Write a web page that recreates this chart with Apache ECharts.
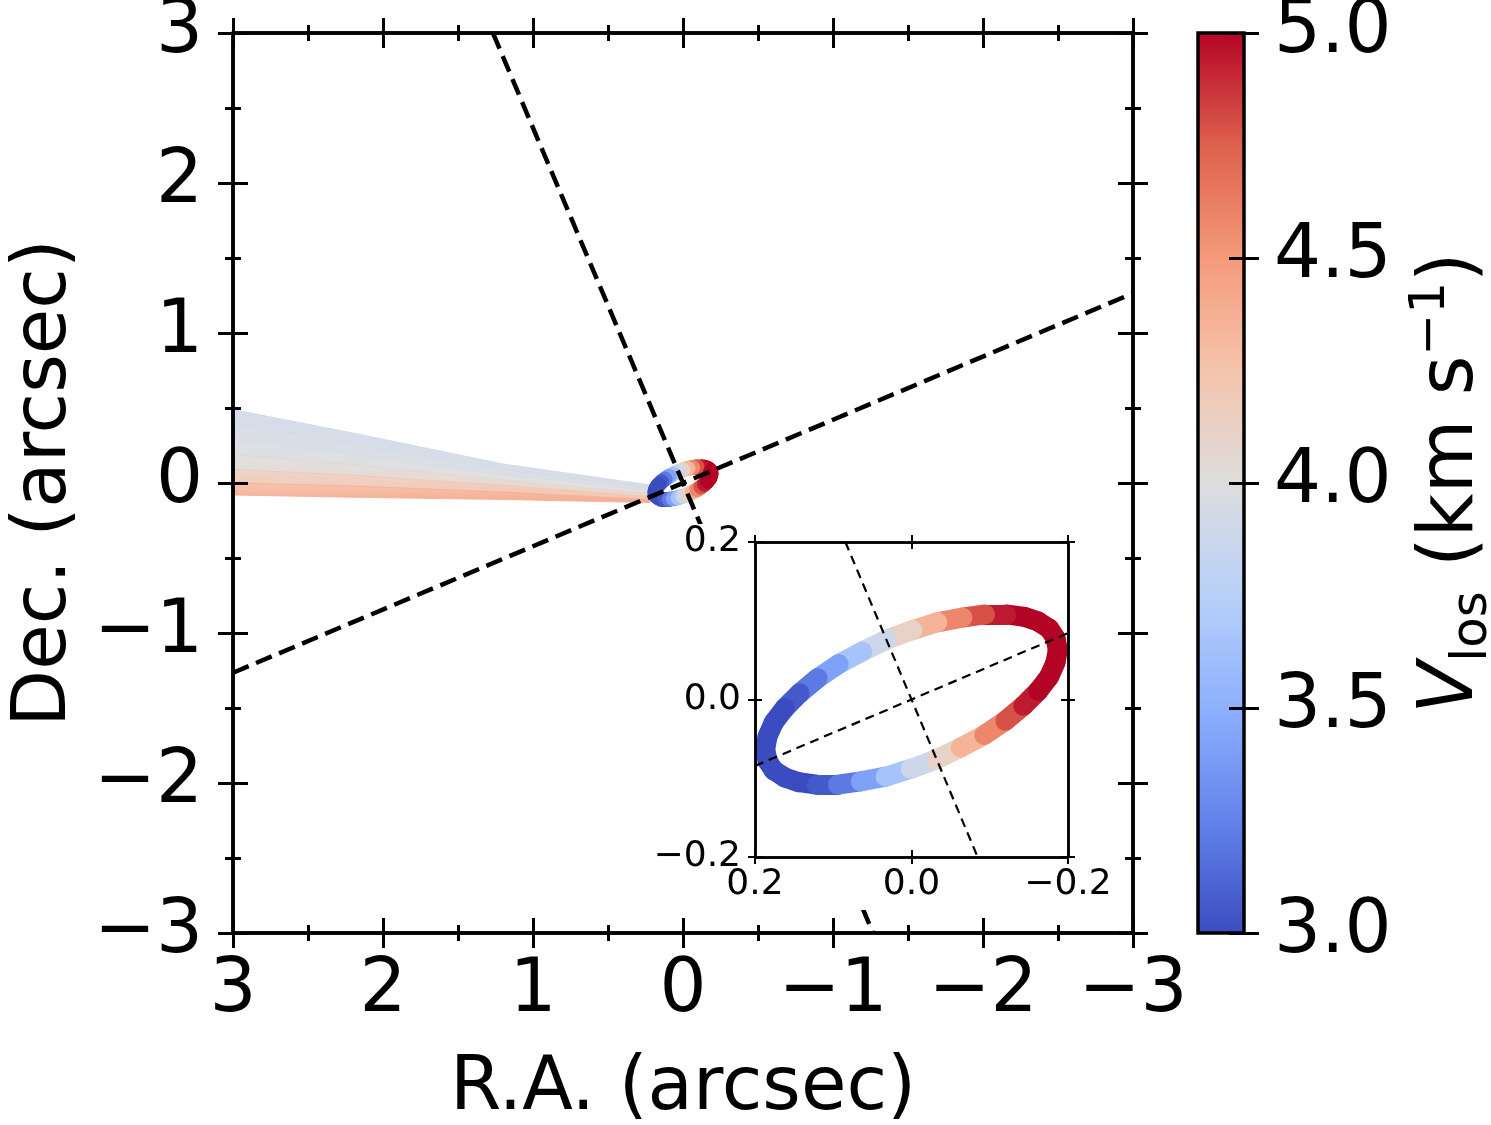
<!DOCTYPE html>
<html>
<head>
<meta charset="utf-8">
<script src="https://cdn.jsdelivr.net/npm/echarts@6/dist/echarts.min.js"></script>
<style>
  html, body { margin: 0; padding: 0; background: #fff; }
  #chart { width: 1491px; height: 1125px; }
</style>
</head>
<body>
<div id="chart"></div>
<script>
// disk ring (arcsec) and its line-of-sight velocity (km/s)
const ringX = [-0.184, -0.176, -0.162, -0.144, -0.121, -0.094, -0.065, -0.033, -0.001, 0.032, 0.063, 0.093,
  0.120, 0.143, 0.162, 0.176, 0.184, 0.187, 0.184, 0.176, 0.162, 0.144, 0.121, 0.094,
  0.065, 0.033, 0.001, -0.032, -0.063, -0.093, -0.120, -0.143, -0.162, -0.176, -0.184, -0.187];
const ringY = [0.078, 0.090, 0.099, 0.105, 0.108, 0.108, 0.104, 0.098, 0.088, 0.076, 0.061, 0.045,
  0.027, 0.008, -0.011, -0.029, -0.047, -0.063, -0.078, -0.090, -0.099, -0.105, -0.108, -0.108,
  -0.104, -0.098, -0.088, -0.076, -0.061, -0.045, -0.027, -0.008, 0.011, 0.029, 0.047, 0.063];
const ringV = [5.0, 5.0, 5.0, 5.0, 5.0, 4.88, 4.7, 4.47, 4.23, 4.0, 3.77, 3.53,
  3.31, 3.12, 3.0, 3.0, 3.0, 3.0, 3.0, 3.0, 3.0, 3.0, 3.0, 3.12,
  3.31, 3.53, 3.77, 4.0, 4.23, 4.47, 4.7, 4.88, 5.0, 5.0, 5.0, 5.0];

// streamer edges: R.A. of the sample points, Dec. of each edge line there, and its velocity
const streamerX = [3.0, 2.2, 1.2, 0.22];
const streamerY = [
  [0.49, 0.333, 0.127, -0.013],
  [0.39, 0.262, 0.090, -0.030],
  [0.29, 0.192, 0.055, -0.050],
  [0.19, 0.122, 0.020, -0.070],
  [0.09, 0.052, -0.015, -0.090],
  [0.00, -0.020, -0.060, -0.110],
  [-0.08, -0.095, -0.110, -0.130]
];
const streamerV = [3.92, 3.94, 3.96, 4.0, 4.12, 4.28, 4.45];

// major and minor axes of the disk, end points
const majorAxisMain = [[3, -1.265], [-3, 1.265]];
const minorAxisMain = [[1.267, 3], [-1.267, -3]];
const majorAxisInset = [[0.2, -0.0843], [-0.2, 0.0843]];
const minorAxisInset = [[0.0845, 0.2], [-0.0845, -0.2]];

// scales
const mainScale = { min: -3, max: 3, interval: 1 };
const insetScale = { min: -0.2, max: 0.2, interval: 0.2 };
const cbScale = { min: 3.0, max: 5.0, interval: 0.5 };

// coolwarm colormap
const coolwarm = ['#3b4cc0', '#6282ea', '#8db0fe', '#b8d0f9', '#dddddd', '#f5c4ac', '#f49a7b', '#de604d', '#b40426'];

const FONT = 'DejaVu Sans';

function hexRgb(h) {
  return [parseInt(h.slice(1, 3), 16), parseInt(h.slice(3, 5), 16), parseInt(h.slice(5, 7), 16)];
}
function vColor(v) {
  let f = (v - cbScale.min) / (cbScale.max - cbScale.min);
  f = Math.max(0, Math.min(1, f));
  const p = f * (coolwarm.length - 1);
  const i = Math.min(Math.floor(p), coolwarm.length - 2);
  const t = p - i;
  const a = hexRgb(coolwarm[i]), b = hexRgb(coolwarm[i + 1]);
  const c = a.map((x, k) => Math.round(x + (b[k] - x) * t));
  return 'rgb(' + c.join(',') + ')';
}
const minus = s => String(s).replace('-', '\u2212');

function sideAxes(gridIndex, position, scale, look, label, extra) {
  const tickStyle = { color: '#000', width: look.tickWidth };
  const base = {
    type: 'value', gridIndex: gridIndex, position: position,
    min: scale.min, max: scale.max, interval: scale.interval, inverse: !!scale.inverse,
    z: look.z,
    axisLine: { show: look.line > 0, onZero: false, lineStyle: { color: '#000', width: look.line } },
    splitLine: { show: false },
    axisPointer: { show: false }
  };
  const outer = Object.assign({}, base, {
    axisTick: { show: true, inside: false, length: look.tick, lineStyle: tickStyle },
    minorTick: { show: look.minor > 0, splitNumber: 2, length: look.minor, lineStyle: tickStyle },
    axisLabel: label || { show: false }
  }, extra || {});
  const inner = Object.assign({}, base, {
    axisTick: { show: true, inside: true, length: look.tick, lineStyle: tickStyle },
    minorTick: { show: look.minor > 0, splitNumber: 2, length: look.minor, lineStyle: tickStyle },
    axisLabel: { show: false }
  });
  return [outer, inner];
}

const mainLook = { line: 3.5, tick: 15, tickWidth: 3, minor: 8, z: 6 };
const insetLook = { line: 2.5, tick: 7, tickWidth: 2, minor: 0, z: 10 };
const cbLook = { line: 0, tick: 15, tickWidth: 3, minor: 0, z: 6 };
const raScale = Object.assign({ inverse: true }, mainScale);
const raInset = Object.assign({ inverse: true }, insetScale);

const mainLabelX = { show: true, margin: 22, color: '#000', fontSize: 74, fontFamily: FONT, formatter: v => minus(Math.round(v)) };
const mainLabelY = { show: true, margin: 30, color: '#000', fontSize: 74, fontFamily: FONT, formatter: v => minus(Math.round(v)) };
const insetFmt = v => Math.abs(v) < 1e-9 ? '0.0' : minus(v.toFixed(1));
const insetLabelX = { show: true, margin: 10, color: '#000', fontSize: 36, fontFamily: FONT, formatter: insetFmt };
const insetLabelY = { show: true, margin: 14, color: '#000', fontSize: 36, fontFamily: FONT, formatter: insetFmt };
const cbLabel = { show: true, margin: 30, color: '#000', fontSize: 74, fontFamily: FONT, formatter: v => v.toFixed(1) };

const xAxes = [].concat(
  sideAxes(0, 'bottom', raScale, mainLook, mainLabelX, {
    name: 'R.A. (arcsec)', nameLocation: 'middle', nameGap: 120,
    nameTextStyle: { color: '#000', fontSize: 74, fontFamily: FONT }
  }),
  sideAxes(0, 'top', raScale, mainLook),
  sideAxes(1, 'bottom', raInset, insetLook, insetLabelX),
  sideAxes(1, 'top', raInset, insetLook),
  [{ type: 'value', gridIndex: 2, min: 0, max: 1, show: false }]
);
const yAxes = [].concat(
  sideAxes(0, 'left', mainScale, mainLook, mainLabelY, {
    name: 'Dec. (arcsec)', nameLocation: 'middle', nameGap: 150, nameRotate: 90,
    nameTextStyle: { color: '#000', fontSize: 74, fontFamily: FONT }
  }),
  sideAxes(0, 'right', mainScale, mainLook),
  sideAxes(1, 'left', insetScale, insetLook, insetLabelY),
  sideAxes(1, 'right', insetScale, insetLook),
  sideAxes(2, 'right', cbScale, cbLook, cbLabel, {
    name: '{v|V}{sub|los} (km s{sup|\u22121})', nameLocation: 'middle', nameGap: 162, nameRotate: 90,
    nameTextStyle: {
      color: '#000', fontSize: 76, fontFamily: FONT, lineHeight: 92,
      rich: {
        v: { fontSize: 76, fontFamily: FONT, fontStyle: 'italic', color: '#000', lineHeight: 92 },
        sub: { fontSize: 50, fontFamily: FONT, color: '#000', lineHeight: 36, verticalAlign: 'bottom' },
        sup: { fontSize: 50, fontFamily: FONT, color: '#000', lineHeight: 36, verticalAlign: 'top' }
      }
    }
  })
);

function ringSegments() {
  const out = [];
  const n = ringX.length;
  for (let i = 0; i < n; i++) {
    const j = (i + 1) % n;
    out.push({
      coords: [[ringX[i], ringY[i]], [ringX[j], ringY[j]]],
      lineStyle: { color: vColor((ringV[i] + ringV[j]) / 2) }
    });
  }
  return out;
}

const cbStops = coolwarm.map((c, i) => ({ offset: i / (coolwarm.length - 1), color: c }));

const chart = echarts.init(document.getElementById('chart'));
chart.setOption({
  animation: false,
  backgroundColor: '#fff',
  grid: [
    { left: 233, top: 33, width: 900, height: 900, containLabel: false, outerBoundsMode: 'none' },
    { left: 755, top: 542, width: 313, height: 315, containLabel: false, outerBoundsMode: 'none', z: 10 },
    { left: 1198, top: 33, width: 46, height: 900, containLabel: false, outerBoundsMode: 'none' }
  ],
  xAxis: xAxes,
  yAxis: yAxes,
  graphic: [{
    type: 'rect', z: 8,
    shape: { x: 648, y: 524, width: 470, height: 386 },
    style: { fill: '#fff' }
  }],
  series: [
    {
      // streamer: filled bands between neighbouring edge lines
      type: 'custom', xAxisIndex: 0, yAxisIndex: 0, z: 2, silent: true,
      data: streamerV.slice(1).map((v, i) => [i, 0]),
      renderItem: function (params, api) {
        const i = api.value(0);
        const top = streamerX.map((x, k) => api.coord([x, streamerY[i][k]]));
        const bot = streamerX.map((x, k) => api.coord([x, streamerY[i + 1][k]])).reverse();
        return {
          type: 'polygon',
          shape: { points: top.concat(bot) },
          style: {
            fill: new echarts.graphic.LinearGradient(0, 0, 0, 1, [
              { offset: 0, color: vColor(streamerV[i]) },
              { offset: 1, color: vColor(streamerV[i + 1]) }
            ]),
            stroke: vColor((streamerV[i] + streamerV[i + 1]) / 2),
            lineWidth: 1,
            opacity: 0.9
          }
        };
      }
    },
    {
      type: 'lines', coordinateSystem: 'cartesian2d', xAxisIndex: 0, yAxisIndex: 0,
      z: 3, silent: true,
      lineStyle: { width: 15, opacity: 1, cap: 'round' },
      data: ringSegments()
    },
    {
      type: 'lines', coordinateSystem: 'cartesian2d', xAxisIndex: 0, yAxisIndex: 0,
      z: 4, silent: true,
      lineStyle: { color: '#000', width: 4.5, opacity: 1, type: [17, 8] },
      data: [{ coords: majorAxisMain }, { coords: minorAxisMain }]
    },
    {
      type: 'lines', coordinateSystem: 'cartesian2d', xAxisIndex: 4, yAxisIndex: 4,
      z: 9, silent: true,
      lineStyle: { width: 20, opacity: 1, cap: 'round' },
      data: ringSegments()
    },
    {
      type: 'lines', coordinateSystem: 'cartesian2d', xAxisIndex: 4, yAxisIndex: 4,
      z: 9, silent: true,
      lineStyle: { color: '#000', width: 2.2, opacity: 1, type: [9, 6] },
      data: [{ coords: majorAxisInset }, { coords: minorAxisInset }]
    },
    {
      type: 'custom', xAxisIndex: 8, yAxisIndex: 8, z: 1, silent: true,
      data: [[0, cbScale.min]],
      renderItem: function (params, api) {
        const p0 = api.coord([0, cbScale.max]);
        const p1 = api.coord([1, cbScale.min]);
        return {
          type: 'rect',
          shape: { x: p0[0], y: p0[1], width: p1[0] - p0[0], height: p1[1] - p0[1] },
          style: {
            fill: new echarts.graphic.LinearGradient(0, 1, 0, 0, cbStops),
            stroke: '#000', lineWidth: 3.5
          }
        };
      }
    }
  ]
});
</script>
</body>
</html>
